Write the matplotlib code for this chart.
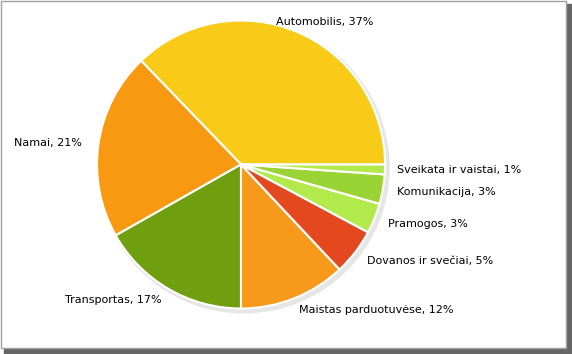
import numpy as np
import matplotlib.pyplot as plt
from matplotlib.patches import Circle, Rectangle

categories = ['Automobilis', 'Namai', 'Transportas', 'Maistas parduotuvėse',
              'Dovanos ir svečiai', 'Pramogos', 'Komunikacija', 'Sveikata ir vaistai']
shares = [37.2, 21.0, 16.8, 12.0, 5.2, 3.4, 3.3, 1.1]
shown_pct = [37, 21, 17, 12, 5, 3, 3, 1]
colors = ['#F7CB17', '#F79A12', '#6F9E0F', '#F7991A',
          '#E3481E', '#B2EA4C', '#9AD434', '#B2EA4C']

W, H = 572, 354
cx, cy, r = 241, 164.5, 144

fig = plt.figure(figsize=(W / 100, H / 100), dpi=100)
ax = fig.add_axes([0, 0, 1, 1])

# soft shadow behind the pie
ax.add_patch(Circle((0.018, -0.02), 1.01, color='#e6e6e6', zorder=0))

wedges, _ = ax.pie(shares, colors=colors, startangle=0, counterclock=True,
                   radius=1.0, center=(0, 0), frame=True,
                   wedgeprops=dict(edgecolor='white', linewidth=1.5))
ax.set_xlim(-cx / r, (W - cx) / r)
ax.set_ylim((cy - H) / r, cy / r)
ax.set_aspect('auto')
ax.axis('off')

# label nudges in pixels (dx, dy)
nudges = [(-27, -3), (-2, -1), (0, 1), (0, 2), (0, 0), (0, 0), (0, 0), (-2, 0)]
for w, name, p, (dx, dy) in zip(wedges, categories, shown_pct, nudges):
    th = np.deg2rad((w.theta1 + w.theta2) / 2)
    x, y = 1.1 * np.cos(th), 1.1 * np.sin(th)
    ha = 'left' if np.cos(th) > 0 else 'right'
    ax.text(x + dx / r, y + dy / r, f'{name}, {p}%', ha=ha, va='center',
            fontsize=8, color='black', family='DejaVu Sans')

# screenshot frame with drop shadow
fig.patches.append(Rectangle((566 / W, 0), 5 / W, (H - 4) / H, transform=fig.transFigure,
                             color='#666666', zorder=-1))
fig.patches.append(Rectangle((4 / W, 0), 567 / W, 5 / H, transform=fig.transFigure,
                             color='#666666', zorder=-1))
fig.patches.append(Rectangle((0.5 / W, 6 / H), 565 / W, (H - 7) / H, transform=fig.transFigure,
                             facecolor='white', edgecolor='#a0a0a0', linewidth=1, zorder=-0.5))

fig.savefig('out.png', dpi=100)
